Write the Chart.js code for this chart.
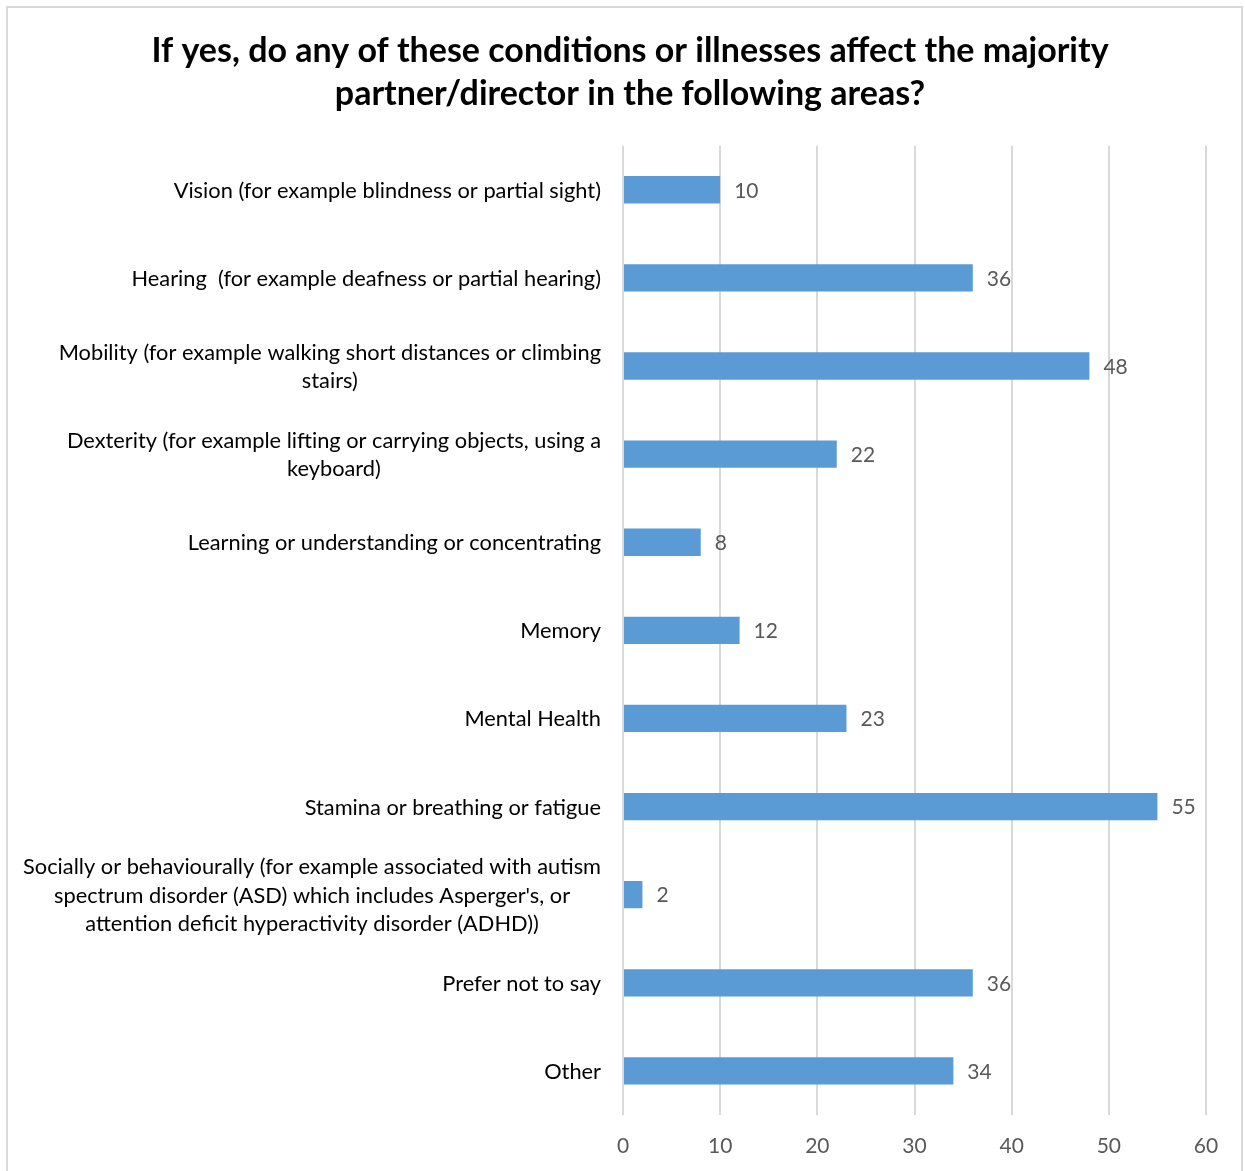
<!DOCTYPE html>
<html>
<head>
<meta charset="utf-8">
<script src="https://cdn.jsdelivr.net/npm/chart.js@4.4.1/dist/chart.umd.min.js"></script>
<style>
  body { margin: 0; background: #fff; }
  #caja { width: 1245px; height: 1171px; }
</style>
</head>
<body>
<div id="caja"><canvas id="condiciones"></canvas></div>
<script>
// categorias (cada linea del texto es un elemento)
var categorias = [
    ['Vision (for example blindness or partial sight)'],
    ['Hearing  (for example deafness or partial hearing)'],
    ['Mobility (for example walking short distances or climbing', 'stairs)'],
    ['Dexterity (for example lifting or carrying objects, using a', 'keyboard)'],
    ['Learning or understanding or concentrating'],
    ['Memory'],
    ['Mental Health'],
    ['Stamina or breathing or fatigue'],
    ['Socially or behaviourally (for example associated with autism', 'spectrum disorder (ASD) which includes Asperger\'s, or', 'attention deficit hyperactivity disorder (ADHD))'],
    ['Prefer not to say'],
    ['Other']
];
var respuestas = [10, 36, 48, 22, 8, 12, 23, 55, 2, 36, 34];
var ejeMin = 0, ejeMax = 60, paso = 10;

var titulo = [
    'If yes, do any of these conditions or illnesses affect the majority',
    'partner/director in the following areas?'
];

var fuente = 'Lato, "Open Sans", sans-serif';

// marco gris alrededor del grafico
var marco = {
    id: 'marco',
    beforeDraw: function (chart) {
        var c = chart.ctx;
        c.save();
        c.fillStyle = '#fff';
        c.fillRect(0, 0, chart.width, chart.height);
        c.strokeStyle = '#d9d9d9';
        c.lineWidth = 2;
        c.strokeRect(7, 7, chart.width - 10, chart.height + 10);
        c.restore();
    }
};

// etiquetas del eje Y: bloque pegado al eje, lineas centradas entre si
var etiquetasY = {
    id: 'etiquetasY',
    afterDraw: function (chart) {
        var c = chart.ctx;
        var y = chart.scales.y;
        c.save();
        c.font = '21.8px ' + fuente;
        c.fillStyle = '#000';
        c.textAlign = 'center';
        c.textBaseline = 'middle';
        var alto = 28.5;
        categorias.forEach(function (lineas, i) {
            var ancho = 0;
            lineas.forEach(function (l) { ancho = Math.max(ancho, c.measureText(l).width); });
            var cx = y.right - 22 - ancho / 2;
            var cy = y.getPixelForTick(i) + 1 - (lineas.length - 1) * alto / 2;
            lineas.forEach(function (l, k) { c.fillText(l, cx, cy + k * alto); });
        });
        c.restore();
    }
};

// valor al final de cada barra
var valores = {
    id: 'valores',
    afterDatasetsDraw: function (chart) {
        var c = chart.ctx;
        c.save();
        c.font = '21px ' + fuente;
        c.fillStyle = '#595959';
        c.textAlign = 'left';
        c.textBaseline = 'middle';
        chart.getDatasetMeta(0).data.forEach(function (barra, i) {
            c.fillText(respuestas[i], barra.x + 14, barra.y + 1);
        });
        c.restore();
    }
};

var ctx = document.getElementById('condiciones').getContext('2d');
var chart = new Chart(ctx, {
    type: 'bar',
    data: {
        labels: categorias,
        datasets: [{
            data: respuestas,
            backgroundColor: '#5b9bd5',
            categoryPercentage: 1,
            barPercentage: 0.31
        }]
    },
    plugins: [marco, etiquetasY, valores],
    options: {
        indexAxis: 'y',
        responsive: true,
        maintainAspectRatio: false,
        animation: false,
        layout: { padding: { top: 0, right: 39, bottom: 0, left: 54 } },
        plugins: {
            legend: { display: false },
            tooltip: { enabled: false },
            title: {
                display: true,
                text: titulo,
                color: '#000',
                font: { family: fuente, size: 34, weight: 'bold', lineHeight: 1.26 },
                padding: { top: 30, bottom: 30 }
            }
        },
        scales: {
            x: {
                min: ejeMin,
                max: ejeMax,
                ticks: {
                    stepSize: paso,
                    color: '#595959',
                    font: { family: fuente, size: 21 },
                    padding: 19
                },
                grid: { color: '#d9d9d9', lineWidth: 2, drawTicks: false },
                border: { display: false },
                afterFit: function (s) { s.height = 56; }
            },
            y: {
                ticks: { display: false },
                grid: { display: false },
                border: { display: false },
                afterFit: function (s) { s.width = 569; }
            }
        }
    }
});
</script>
</body>
</html>
